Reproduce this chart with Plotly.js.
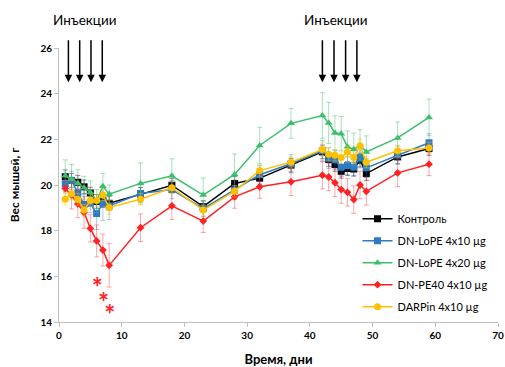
<!DOCTYPE html>
<html><head><meta charset="utf-8">
<script src="https://cdn.plot.ly/plotly-3.0.1.min.js"></script>
<style>html,body{margin:0;padding:0;background:#fff}#c{width:505px;height:367px}</style>
</head><body><div id="c"></div>
<script>
const days = [1,2,3,4,5,6,7,8,13,18,23,28,32,37,42,43,44,45,46,47,48,49,54,59];
const control = [20.36,20.2,20.12,19.92,19.65,19.28,19.32,19.2, 19.59,19.99,19.05,20.07,20.3,20.87, 21.45,21.12,20.9,20.6,20.72,20.7,21.09,20.5, 21.23,21.6];
const controlErr = [0.3,0.3,0.3,0.3,0.25,0.3,0.3,0.3, 0.3,0.3,0.25,0.3,0.3,0.3, 0.3,0.3,0.3,0.3,0.3,0.3,0.3,0.3, 0.3,0.3];
const lope10 = [20.05,20.2,19.65,19.15,19.19,18.75,19.2,19.08, 19.63,19.8,18.97,19.78,20.45,20.93, 21.5,21.18,21.1,20.78,20.85,20.78,21.2,20.75, 21.31,21.85];
const lope10Err = [0.35,0.4,0.4,0.45,0.4,0.7,0.75,0.6, 0.4,0.4,0.35,0.4,0.4,0.4, 0.45,0.45,0.4,0.4,0.4,0.4,0.45,0.4, 0.4,0.4];
const lope20 = [20.4,20.25,20.08,19.88,19.68,19.3,19.95,19.6, 20.07,20.4,19.56,20.46,21.73,22.7, 23.04,22.72,22.28,22.25,21.67,21.57,21.72,21.45, 22.06,22.96];
const lope20Err = [0.7,0.65,0.6,0.5,0.5,0.5,0.55,0.4, 0.9,0.75,0.75,0.9,0.8,0.65, 1.0,0.9,0.75,0.75,0.7,0.7,0.7,0.7, 0.7,0.8];
const pe40 = [19.85,19.55,19.17,18.8,18.1,17.55,17.15,16.48, 18.13,19.09,18.42,19.48,19.92,20.14, 20.43,20.35,20.1,19.8,19.68,19.36,20.0,19.72, 20.53,20.91];
const pe40Err = [0.4,0.6,0.6,0.7,0.6,0.7,0.7,0.95, 0.6,0.6,0.5,0.5,0.5,0.6, 0.6,0.6,0.6,0.6,0.6,0.6,0.6,0.6, 0.6,0.5];
const darpin = [19.38,19.62,19.37,18.9,19.32,19.32,19.56,19.02, 19.38,19.88,18.9,19.73,20.63,21.0, 21.55,21.35,21.3,21.2,21.45,21.2,21.72,21.0, 21.5,21.62];
const darpinErr = [0.25,0.25,0.25,0.25,0.25,0.25,0.25,0.3, 0.25,0.25,0.25,0.25,0.25,0.25, 0.3,0.3,0.25,0.25,0.25,0.25,0.3,0.25, 0.25,0.25];
const seriesNames = ['Контроль','DN-LoPE 4x10 µg','DN-LoPE 4x20 µg','DN-PE40 4x10 µg','DARPin 4x10 µg'];
const injectionDays1 = [1.5,3.3,5.1,6.9];
const injectionDays2 = [42.0,43.85,45.7,47.5];
const injectionLabel = 'Инъекции';
const starDays = [6.1,7.1,8.1];
const starY = [15.4,14.72,14.2];

const F = 'Lato, "Open Sans", sans-serif';
function tr(name, y, err, color, errColor, symbol, size, order){
  return {x: days, y: y, name: name, type:'scatter', mode:'lines+markers',
    line:{color:color, width:1.5}, marker:{color:color, symbol:symbol, size:size},
    error_y:{type:'data', array:err, visible:true, color:errColor, thickness:1, width:2.5},
    legendgroup:'g'+order, cliponaxis:false};
}
const data = [
  tr(seriesNames[0], control, controlErr, '#000000', 'rgba(0,0,0,0.45)', 'square', 7, 0),
  tr(seriesNames[1], lope10, lope10Err, '#2E7BC4', 'rgba(46,123,196,0.4)', 'square', 7, 1),
  tr(seriesNames[2], lope20, lope20Err, '#3CBF6A', 'rgba(60,191,106,0.45)', 'triangle-up', 7, 2),
  tr(seriesNames[3], pe40, pe40Err, '#FF2222', 'rgba(255,34,34,0.4)', 'diamond', 6, 3),
  tr(seriesNames[4], darpin, darpinErr, '#FFC000', 'rgba(255,192,0,0.45)', 'circle', 7, 4),
  {x: starDays, y: starY, mode:'text', text: starDays.map(()=>'<b>*</b>'), showlegend:false,
   textfont:{color:'#FF2222', size:26, family:F}, hoverinfo:'skip', cliponaxis:false}
];
const ann = [];
injectionDays1.concat(injectionDays2).forEach(d=>{
  ann.push({x:d, y:24.5, ax:d, ay:26.4, xref:'x', yref:'y', axref:'x', ayref:'y',
    showarrow:true, arrowhead:2, arrowsize:1, arrowwidth:1.5, arrowcolor:'#000', text:''});
});
ann.push({x:4.2, y:1.14, xref:'x', yref:'paper', text:injectionLabel, showarrow:false,
  font:{family:F, size:13.5, color:'#000'}});
ann.push({x:44.1, y:1.14, xref:'x', yref:'paper', text:injectionLabel, showarrow:false,
  font:{family:F, size:13.5, color:'#000'}});

const layout = {
  width:505, height:367, margin:{l:59, r:7, t:48, b:45, autoexpand:false},
  paper_bgcolor:'#fff', plot_bgcolor:'#fff',
  font:{family:F, color:'#000'},
  xaxis:{range:[0,70], dtick:10, showgrid:false, zeroline:false, showline:true, linecolor:'#BFBFBF',
    ticks:'outside', ticklen:4, tickcolor:'#BFBFBF', tickfont:{size:10, family:F, weight:'bold'},
    title:{text:'<b>Время, дни</b>', font:{size:13, family:F}, standoff:16}},
  yaxis:{range:[14,26], dtick:2, showgrid:false, zeroline:false, showline:true, linecolor:'#BFBFBF',
    ticks:'outside', ticklen:4, tickcolor:'#BFBFBF', tickfont:{size:10, family:F, weight:'bold'},
    title:{text:'<b>Вес мышей, г</b>', font:{size:12, family:F}, standoff:18}},
  legend:{x:0.68, y:0.43, xanchor:'left', yanchor:'top', font:{size:11, family:F},
    itemwidth:30, tracegroupgap:3, bgcolor:'rgba(0,0,0,0)'},
  annotations: ann, showlegend:true
};
Plotly.newPlot('c', data, layout, {displayModeBar:false, staticPlot:true});
</script></body></html>
